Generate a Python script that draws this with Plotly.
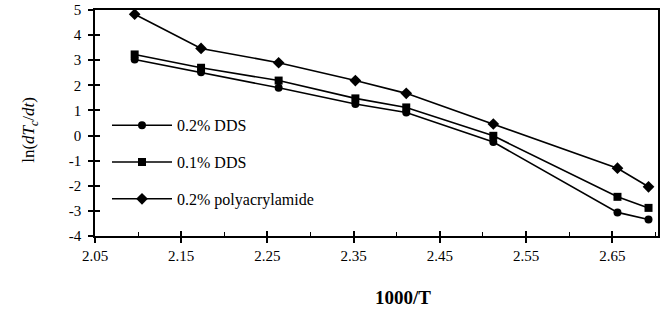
import plotly.graph_objects as go

x_vals = [2.096, 2.173, 2.263, 2.352, 2.411, 2.512, 2.656, 2.692]
dds02 = [3.03, 2.52, 1.90, 1.26, 0.92, -0.26, -3.06, -3.34]
dds01 = [3.23, 2.70, 2.19, 1.48, 1.12, -0.01, -2.44, -2.88]
polyac = [4.83, 3.47, 2.90, 2.19, 1.68, 0.46, -1.30, -2.04]

names = ["0.2% DDS", "0.1% DDS", "0.2% polyacrylamide"]
symbols = ["circle", "square", "diamond"]
sizes = [8, 8, 9]
series = [dds02, dds01, polyac]

x_ticks = [2.05, 2.15, 2.25, 2.35, 2.45, 2.55, 2.65]
y_ticks = [-4, -3, -2, -1, 0, 1, 2, 3, 4, 5]
y_tick_text = ["-4", "-3", "-2", "-1", "0", "1", "2", "3", "4", "5"]

FONT = "Liberation Serif"
W, H = 663, 311
L, R, T, B = 95, 5, 10, 75
PW = W - L - R
PH = H - T - B

fig = go.Figure()
for i, (nm, ys) in enumerate(zip(names, series)):
    fig.add_trace(go.Scatter(
        x=x_vals, y=ys, name=nm, mode="lines+markers",
        line=dict(color="black", width=1.6),
        marker=dict(symbol=symbols[i], size=sizes[i], color="black"),
        legendgroup=nm,
    ))

# invisible trace on overlay axes, giving ticks that cross the axis lines
fig.add_trace(go.Scatter(x=[2.3], y=[0], xaxis="x2", yaxis="y2", mode="markers",
                         marker=dict(opacity=0), showlegend=False, hoverinfo="skip"))

fig.update_layout(
    width=W, height=H,
    margin=dict(l=L, r=R, t=T, b=B, autoexpand=False),
    paper_bgcolor="white", plot_bgcolor="white",
    font=dict(family=FONT, color="black", size=15),
    legend=dict(x=12 / PW, y=0.565, xanchor="left", yanchor="top",
                bgcolor="rgba(0,0,0,0)", itemwidth=60,
                tracegroupgap=13, font=dict(family=FONT, size=16)),
    xaxis=dict(range=[2.05, 2.703], tickvals=x_ticks,
               ticktext=[f"{v:.2f}" for v in x_ticks],
               ticks="outside", ticklen=5, tickwidth=1.5, tickcolor="black",
               showline=True, linecolor="black", linewidth=1.5, mirror=True,
               showgrid=False, zeroline=False, ticklabeloverflow="allow",
               minor=dict(dtick=0.1, tick0=2.1, ticks="inside", ticklen=4,
                          tickwidth=1.2, tickcolor="black", showgrid=False),
               tickfont=dict(size=15)),
    yaxis=dict(range=[-4, 5], tickvals=y_ticks, ticktext=y_tick_text,
               ticks="outside", ticklen=5,
               tickwidth=1.5, tickcolor="black", ticklabeloverflow="allow",
               showline=True, linecolor="black", linewidth=1.5, mirror=True,
               showgrid=False, zeroline=False, tickfont=dict(size=15),
               ticklabelstandoff=4),
    xaxis2=dict(range=[2.05, 2.703], tickvals=x_ticks, ticks="inside", ticklen=5,
                tickwidth=1.5, tickcolor="black", showticklabels=False,
                showgrid=False, zeroline=False, overlaying="x", anchor="y2"),
    yaxis2=dict(range=[-4, 5], tickvals=y_ticks, ticks="inside", ticklen=5,
                tickwidth=1.5, tickcolor="black", showticklabels=False,
                showgrid=False, zeroline=False, overlaying="y", anchor="x2"),
    annotations=[
        dict(text="<b>1000/T</b>", xref="paper", yref="paper",
             x=(403 - 95) / PW, y=-(297 - 236) / PH, xanchor="center",
             yanchor="middle", showarrow=False, font=dict(size=19, family=FONT)),
        dict(text="ln(<i>dT<sub>c</sub></i>/<i>dt</i>)", xref="paper", yref="paper",
             x=(30 - 95) / PW, y=0.47, xanchor="center", yanchor="middle",
             textangle=-90, showarrow=False, font=dict(size=17, family=FONT)),
    ],
)

fig.write_html("out.html", config={"displayModeBar": False},
               post_script="document.body.style.margin='0';")
